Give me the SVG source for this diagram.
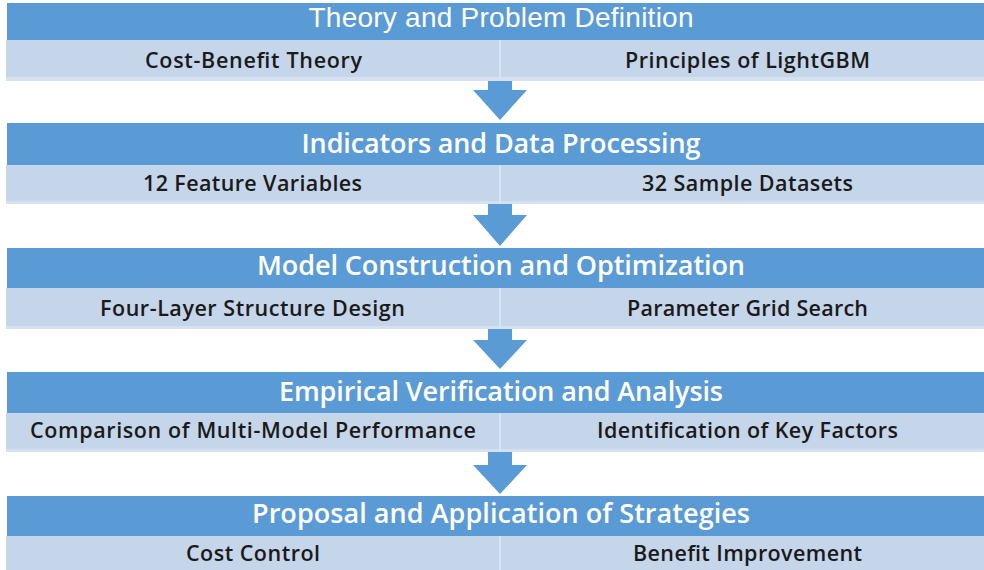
<svg xmlns="http://www.w3.org/2000/svg" width="984" height="570" viewBox="0 0 984 570">
  <style>
    .hdr { fill: #5B9BD5; }
    .sub { fill: #C5D5EA; }
    .subEdge { fill: #D5E1F0; }
    .divider { fill: #D9E3F1; }
    .title { font-family: "Open Sans", "Noto Sans", sans-serif; font-size: 27px; font-weight: 600; fill: #FFFFFF; text-anchor: middle; }
    .title1 { font-family: "Liberation Sans", Arial, sans-serif; font-size: 28px; fill: #FFFFFF; text-anchor: middle; }
    .item { font-family: "Open Sans", "Noto Sans", sans-serif; font-size: 21.5px; font-weight: 600; fill: #1A1A1A; text-anchor: middle; }
    .arrow { fill: #5B9BD5; }
  </style>
  <rect width="984" height="570" fill="#FFFFFF"/>

  <!-- Stage 1 -->
  <g id="stage-theory">
    <rect class="hdr" x="7" y="3" width="988" height="37"/>
    <rect class="sub" x="6" y="40" width="989" height="41"/>
    <rect class="subEdge" x="6" y="77" width="989" height="4"/>
    <rect class="divider" x="499" y="40" width="2" height="41"/>
    <text class="title1" x="501" y="27" textLength="385">Theory and Problem Definition</text>
    <text class="item" x="253.5" y="68" textLength="217">Cost-Benefit Theory</text>
    <text class="item" x="747.5" y="68" textLength="245">Principles of LightGBM</text>
  </g>

  <!-- Stage 2 -->
  <g id="stage-indicators">
    <rect class="hdr" x="7" y="123" width="988" height="42"/>
    <rect class="sub" x="6" y="165" width="989" height="39"/>
    <rect class="subEdge" x="6" y="201" width="989" height="3"/>
    <rect class="divider" x="499" y="165" width="2" height="39"/>
    <text class="title" x="501" y="153" textLength="399">Indicators and Data Processing</text>
    <text class="item" x="252.5" y="191" textLength="219">12 Feature Variables</text>
    <text class="item" x="747.5" y="191" textLength="211">32 Sample Datasets</text>
  </g>

  <!-- Stage 3 -->
  <g id="stage-model">
    <rect class="hdr" x="7" y="248" width="988" height="40"/>
    <rect class="sub" x="6" y="288" width="989" height="41"/>
    <rect class="subEdge" x="6" y="326" width="989" height="3"/>
    <rect class="divider" x="499" y="288" width="2" height="41"/>
    <text class="title" x="501" y="275" textLength="488">Model Construction and Optimization</text>
    <text class="item" x="252.5" y="316" textLength="305">Four-Layer Structure Design</text>
    <text class="item" x="747.5" y="316" textLength="241">Parameter Grid Search</text>
  </g>

  <!-- Stage 4 -->
  <g id="stage-empirical">
    <rect class="hdr" x="7" y="372" width="988" height="41"/>
    <rect class="sub" x="6" y="413" width="989" height="39"/>
    <rect class="subEdge" x="6" y="449" width="989" height="3"/>
    <rect class="divider" x="499" y="413" width="2" height="39"/>
    <text class="title" x="501" y="401" textLength="444">Empirical Verification and Analysis</text>
    <text class="item" x="253" y="438" textLength="446">Comparison of Multi-Model Performance</text>
    <text class="item" x="747.5" y="438" textLength="301">Identification of Key Factors</text>
  </g>

  <!-- Stage 5 -->
  <g id="stage-strategies">
    <rect class="hdr" x="7" y="496" width="988" height="40"/>
    <rect class="sub" x="6" y="536" width="989" height="34"/>
    <rect class="divider" x="499" y="536" width="2" height="34"/>
    <text class="title" x="501" y="523" textLength="498">Proposal and Application of Strategies</text>
    <text class="item" x="253" y="561" textLength="134">Cost Control</text>
    <text class="item" x="747.5" y="561" textLength="229">Benefit Improvement</text>
  </g>

  <!-- Block arrows between stages -->
  <g id="connectors">
    <polygon class="arrow" points="488,81 512,81 512,90 527,90 500,120 473,90 488,90"/>
    <polygon class="arrow" points="488,204 512,204 512,215 527,215 500,246 473,215 488,215"/>
    <polygon class="arrow" points="488,329 512,329 512,340 527,340 500,369 473,340 488,340"/>
    <polygon class="arrow" points="488,452 512,452 512,465 527,465 500,494 473,465 488,465"/>
  </g>
</svg>
